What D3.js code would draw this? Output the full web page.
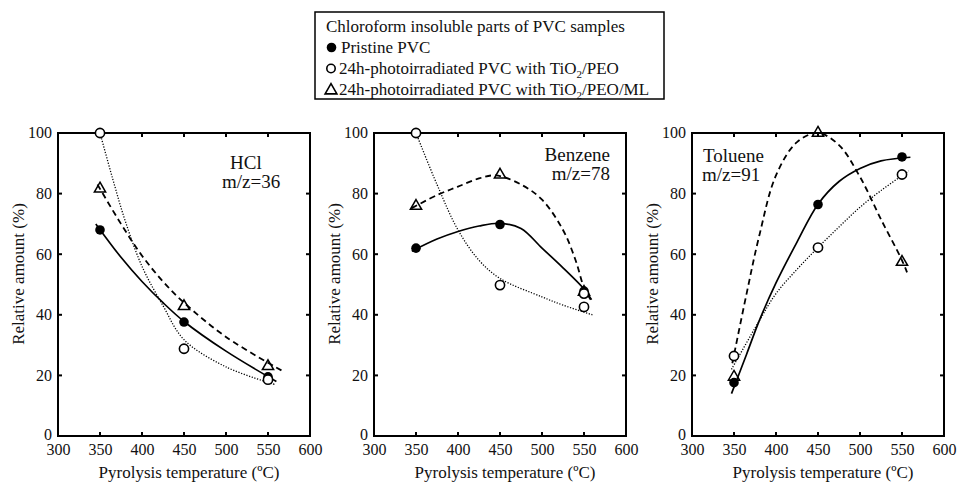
<!DOCTYPE html>
<html>
<head>
<meta charset="utf-8">
<script src="https://cdn.jsdelivr.net/npm/d3@7"></script>
<style>
  body { margin: 0; background: #fff; }
  svg, svg text { font-family: "Liberation Serif", "Times New Roman", serif; }
</style>
</head>
<body>
<div id="viz"></div>
<script>
const width = 957;
const height = 483;

// data
const temps = [350, 450, 550];
const xTickLabels = [300, 350, 400, 450, 500, 550, 600];
const yTickLabels = [0, 20, 40, 60, 80, 100];
const panelNames = ['HCl', 'Benzene', 'Toluene'];
const panelMz = ['m/z=36', 'm/z=78', 'm/z=91'];

// measured points: pristine (filled), TiO2/PEO (open), TiO2/PEO/ML (triangle)
const hclPristine = [68, 37.6, 19.5];
const hclPeo = [100, 28.8, 18.6];
const hclPeoMl = [81.6, 42.8, 23];
const benzenePristine = [62, 69.8, 47.8];
const benzenePeo = [100, 49.8, 47];
const benzenePeo2 = [null, null, 42.6];
const benzenePeoMl = [75.9, 86.2, 47.5];
const toluenePristine = [17.6, 76.4, 92.1];
const toluenePeo = [26.4, 62.2, 86.3];
const toluenePeoMl = [19.5, 100, 57.4];

// fitted curves [temperature, %]
const hclFitPristine = [[345, 70], [375, 59], [400, 51], [425, 44], [450, 37.8], [500, 28], [560, 18]];
const hclFitPeo = [[350, 100], [365, 85], [380, 71], [400, 56], [425, 43], [450, 31.8], [500, 22.8], [558, 17]];
const hclFitPeoMl = [[347, 83], [375, 70], [400, 59.5], [425, 51], [450, 44], [500, 32.7], [567, 21.5]];
const benzeneFitPristine = [[345, 61], [375, 65], [400, 67.5], [425, 69.3], [450, 70.2], [475, 68.5], [500, 62], [525, 55.5], [550, 48.5], [559, 45]];
const benzeneFitPeo = [[350, 100], [375, 83], [400, 68], [425, 58], [450, 52], [500, 45.9], [525, 43.2], [560, 40]];
const benzeneFitPeoMl = [[345, 75.2], [375, 79.5], [400, 82.3], [425, 85], [445, 86], [475, 83], [500, 78], [525, 68], [540, 58], [550, 49], [558, 45]];
const tolueneFitPristine = [[347, 14], [365, 27], [380, 38], [400, 50.5], [425, 64], [450, 76.5], [475, 84], [500, 88.3], [525, 90.8], [560, 92]];
const tolueneFitPeo = [[347, 22], [380, 38], [400, 47], [425, 55], [450, 62.2], [475, 69], [500, 75.5], [525, 81], [558, 87.5]];
const tolueneFitPeoMl = [[348, 24], [365, 47], [380, 66], [400, 86], [425, 97], [450, 100], [475, 96], [500, 85.5], [525, 71.5], [550, 58], [556, 54]];

const panels = [
  {left: 58, name: 0, pristine: hclPristine, peo: [hclPeo], peoMl: hclPeoMl,
   fits: [hclFitPristine, hclFitPeo, hclFitPeoMl], label: {x: 230, y: 169, anchor: 'start', dx2: -8}},
  {left: 374, name: 1, pristine: benzenePristine, peo: [benzenePeo, benzenePeo2], peoMl: benzenePeoMl,
   fits: [benzeneFitPristine, benzeneFitPeo, benzeneFitPeoMl], label: {x: 610, y: 161, anchor: 'end', dx2: 0}},
  {left: 692, name: 2, pristine: toluenePristine, peo: [toluenePeo], peoMl: toluenePeoMl,
   fits: [tolueneFitPristine, tolueneFitPeo, tolueneFitPeoMl], label: {x: 703, y: 162, anchor: 'start', dx2: -1}}
];

const plotW = 252;
const plotTop = 133;
const plotBottom = 436;

const svg = d3.select('#viz')
  .append('svg')
    .attr('width', width)
    .attr('height', height);

const lineStyles = [
  {dash: null, w: 1.7},
  {dash: '1.2,1.6', w: 1.3},
  {dash: '6,4', w: 1.8}
];

panels.forEach(p => {
  const x = d3.scaleLinear().domain([300, 600]).range([p.left, p.left + plotW]);
  const y = d3.scaleLinear().domain([0, 100]).range([plotBottom, plotTop]);
  const g = svg.append('g');

  // tick labels
  g.append('g')
    .attr('transform', `translate(0,${plotBottom})`)
    .call(d3.axisBottom(x).tickValues(xTickLabels).tickSize(0).tickPadding(8))
    .attr('font-family', null).attr('font-size', 16)
    .call(a => a.select('.domain').remove())
    .selectAll('text').attr('fill', '#111');
  g.append('g')
    .attr('transform', `translate(${p.left},0)`)
    .call(d3.axisLeft(y).tickValues(yTickLabels).tickSize(0).tickPadding(6))
    .attr('font-family', null).attr('font-size', 16)
    .call(a => a.select('.domain').remove())
    .selectAll('text').attr('fill', '#111').attr('dy', d => d === 0 ? '0.2em' : '0.3em');

  // inward ticks on all four sides
  const xt = xTickLabels.slice(1, -1);
  const yt = yTickLabels.slice(1, -1);
  const tk = g.append('g').attr('stroke', '#000').attr('stroke-width', 2);
  tk.selectAll(null).data(xt).join('line')
    .attr('x1', d => x(d)).attr('x2', d => x(d))
    .attr('y1', plotBottom).attr('y2', plotBottom - 4);
  tk.selectAll(null).data(xt).join('line')
    .attr('x1', d => x(d)).attr('x2', d => x(d))
    .attr('y1', plotTop).attr('y2', plotTop + 4);
  tk.selectAll(null).data(yt).join('line')
    .attr('x1', p.left).attr('x2', p.left + 4)
    .attr('y1', d => y(d)).attr('y2', d => y(d));
  tk.selectAll(null).data(yt).join('line')
    .attr('x1', p.left + plotW).attr('x2', p.left + plotW - 4)
    .attr('y1', d => y(d)).attr('y2', d => y(d));

  g.append('rect')
    .attr('x', p.left).attr('y', plotTop)
    .attr('width', plotW).attr('height', plotBottom - plotTop)
    .attr('fill', 'none').attr('stroke', '#000').attr('stroke-width', 2);

  // axis titles
  g.append('text')
    .attr('x', p.left + plotW / 2 + 5).attr('y', 478)
    .attr('text-anchor', 'middle').attr('font-size', 17).attr('fill', '#111')
    .text('Pyrolysis temperature (ºC)');
  g.append('text')
    .attr('transform', `translate(${p.left - 34},274) rotate(-90)`)
    .attr('text-anchor', 'middle').attr('font-size', 17).attr('fill', '#111')
    .text('Relative amount (%)');

  // compound labels
  g.append('text')
    .attr('x', p.label.x).attr('y', p.label.y)
    .attr('text-anchor', p.label.anchor).attr('font-size', 19).attr('fill', '#111')
    .text(panelNames[p.name]);
  g.append('text')
    .attr('x', p.label.x + p.label.dx2).attr('y', p.label.y + 19)
    .attr('text-anchor', p.label.anchor).attr('font-size', 19).attr('fill', '#111')
    .text(panelMz[p.name]);

  // fitted curves
  const line = d3.line()
    .x(d => x(d[0]))
    .y(d => y(d[1]))
    .curve(d3.curveCatmullRom.alpha(0.5));
  p.fits.forEach((f, i) => {
    g.append('path')
      .attr('d', line(f))
      .attr('fill', 'none')
      .attr('stroke', '#000')
      .attr('stroke-width', lineStyles[i].w)
      .attr('stroke-dasharray', lineStyles[i].dash);
  });

  // markers
  g.selectAll(null).data(temps.map((t, i) => [t, p.pristine[i]])).join('circle')
    .attr('cx', d => x(d[0])).attr('cy', d => y(d[1])).attr('r', 4.8)
    .attr('fill', '#000');
  g.selectAll(null).data(temps.map((t, i) => [t, p.peoMl[i]])).join('path')
    .attr('transform', d => `translate(${x(d[0])},${y(d[1])})`)
    .attr('d', d3.symbol(d3.symbolTriangle, 55))
    .attr('fill', 'none').attr('stroke', '#000').attr('stroke-width', 1.5);
  p.peo.forEach(s => {
    const pts = temps.map((t, i) => [t, s[i]]).filter(d => d[1] != null);
    g.selectAll(null).data(pts).join('circle')
      .attr('cx', d => x(d[0])).attr('cy', d => y(d[1])).attr('r', 4.6)
      .attr('fill', '#fff').attr('stroke', '#000').attr('stroke-width', 1.6);
  });
});

// legend
const legend = svg.append('g').attr('font-size', 17).attr('fill', '#111');
legend.append('rect')
  .attr('x', 315).attr('y', 12).attr('width', 349).attr('height', 87)
  .attr('fill', 'none').attr('stroke', '#000').attr('stroke-width', 1.5);
legend.append('text').attr('x', 326).attr('y', 31.5)
  .text('Chloroform insoluble parts of PVC samples');
legend.append('circle').attr('cx', 331.5).attr('cy', 47.5).attr('r', 4.8).attr('fill', '#000');
legend.append('text').attr('x', 341).attr('y', 52.5).text('Pristine PVC');
legend.append('circle').attr('cx', 331).attr('cy', 68.5).attr('r', 4.2)
  .attr('fill', 'none').attr('stroke', '#000').attr('stroke-width', 1.6);
const t3 = legend.append('text').attr('x', 339).attr('y', 73.5);
t3.append('tspan').text('24h-photoirradiated PVC with TiO');
t3.append('tspan').attr('font-size', 11).attr('dy', 4).text('2');
t3.append('tspan').attr('dy', -4).text('/PEO');
legend.append('path')
  .attr('transform', 'translate(331,90.5)')
  .attr('d', d3.symbol(d3.symbolTriangle, 60))
  .attr('fill', 'none').attr('stroke', '#000').attr('stroke-width', 1.6);
const t4 = legend.append('text').attr('x', 339).attr('y', 95);
t4.append('tspan').text('24h-photoirradiated PVC with TiO');
t4.append('tspan').attr('font-size', 11).attr('dy', 4).text('2');
t4.append('tspan').attr('dy', -4).text('/PEO/ML');
</script>
</body>
</html>
